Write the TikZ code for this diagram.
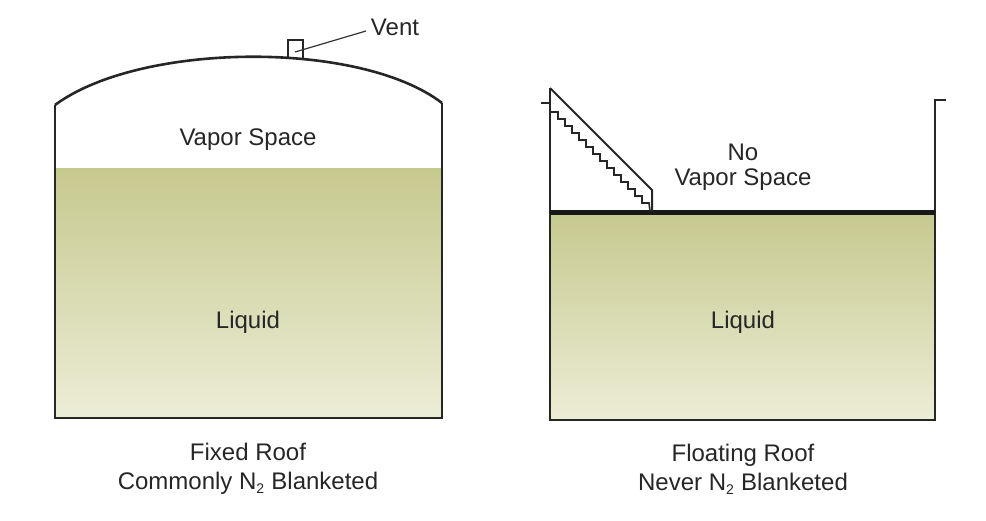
\documentclass[tikz,border=0pt]{standalone}
\usepackage{fontspec}
\setmainfont{Liberation Sans}
\newcommand{\subtwo}{\textsubscript{\fontsize{14}{14}\selectfont 2}}
\begin{document}
\begin{tikzpicture}[x=1pt,y=-1pt,
  lbl/.style={font=\fontsize{24}{29}\selectfont,text=black!85},
  wall/.style={line width=2.6pt,black!85},
  liq/.style={top color={rgb,255:red,198;green,201;blue,142},bottom color={rgb,255:red,236;green,237;blue,214}}]
\useasboundingbox (0,0) rectangle (986,520);
% left tank
\shade[liq] (55,168) rectangle (442,418);
\draw[wall] (55,105) -- (55,418) -- (442,418) -- (442,103);
\draw[wall] (55,105) .. controls (140,42) and (360,40) .. (442,103);
\draw[line width=2pt,black!85] (288,59) -- (288,40) -- (303,40) -- (303,60);
\coordinate (vp) at (295,52);
\node[lbl] (vent) at (395,27) {Vent};
\draw[line width=1.2pt,black!80] (vp) -- (366,31);
\node[lbl] (vs1) at (248,140) {Vapor Space};
\node[lbl] (l1) at (248,322) {Liquid};
\node[lbl,align=center] (c1) at (248,469) {Fixed Roof\\Commonly N\subtwo{} Blanketed};
% right tank
\shade[liq] (550,212) rectangle (935,420);
\draw[wall] (541,103) -- (550,103);
\draw[wall] (550,88) -- (550,420) -- (935,420) -- (935,100) -- (946,100);
\draw[line width=5pt,black!90] (550,212) -- (935,212);
\draw[line width=2pt,black!85] (550,88) -- (652,190) -- (652,211);
\draw[line width=1.6pt,black!85] (551,112) -- (558,112)
  \foreach \i in {1,...,13} { -- ++(0,7) -- ++(7,0) } -- (650,211);
\node[lbl] (no) at (743,152) {No};
\node[lbl] (vs2) at (743,180) {Vapor Space};
\node[lbl] (l2) at (743,322) {Liquid};
\node[lbl,align=center] (c2) at (743,469) {Floating Roof\\Never N\subtwo{} Blanketed};
\end{tikzpicture}
\end{document}
